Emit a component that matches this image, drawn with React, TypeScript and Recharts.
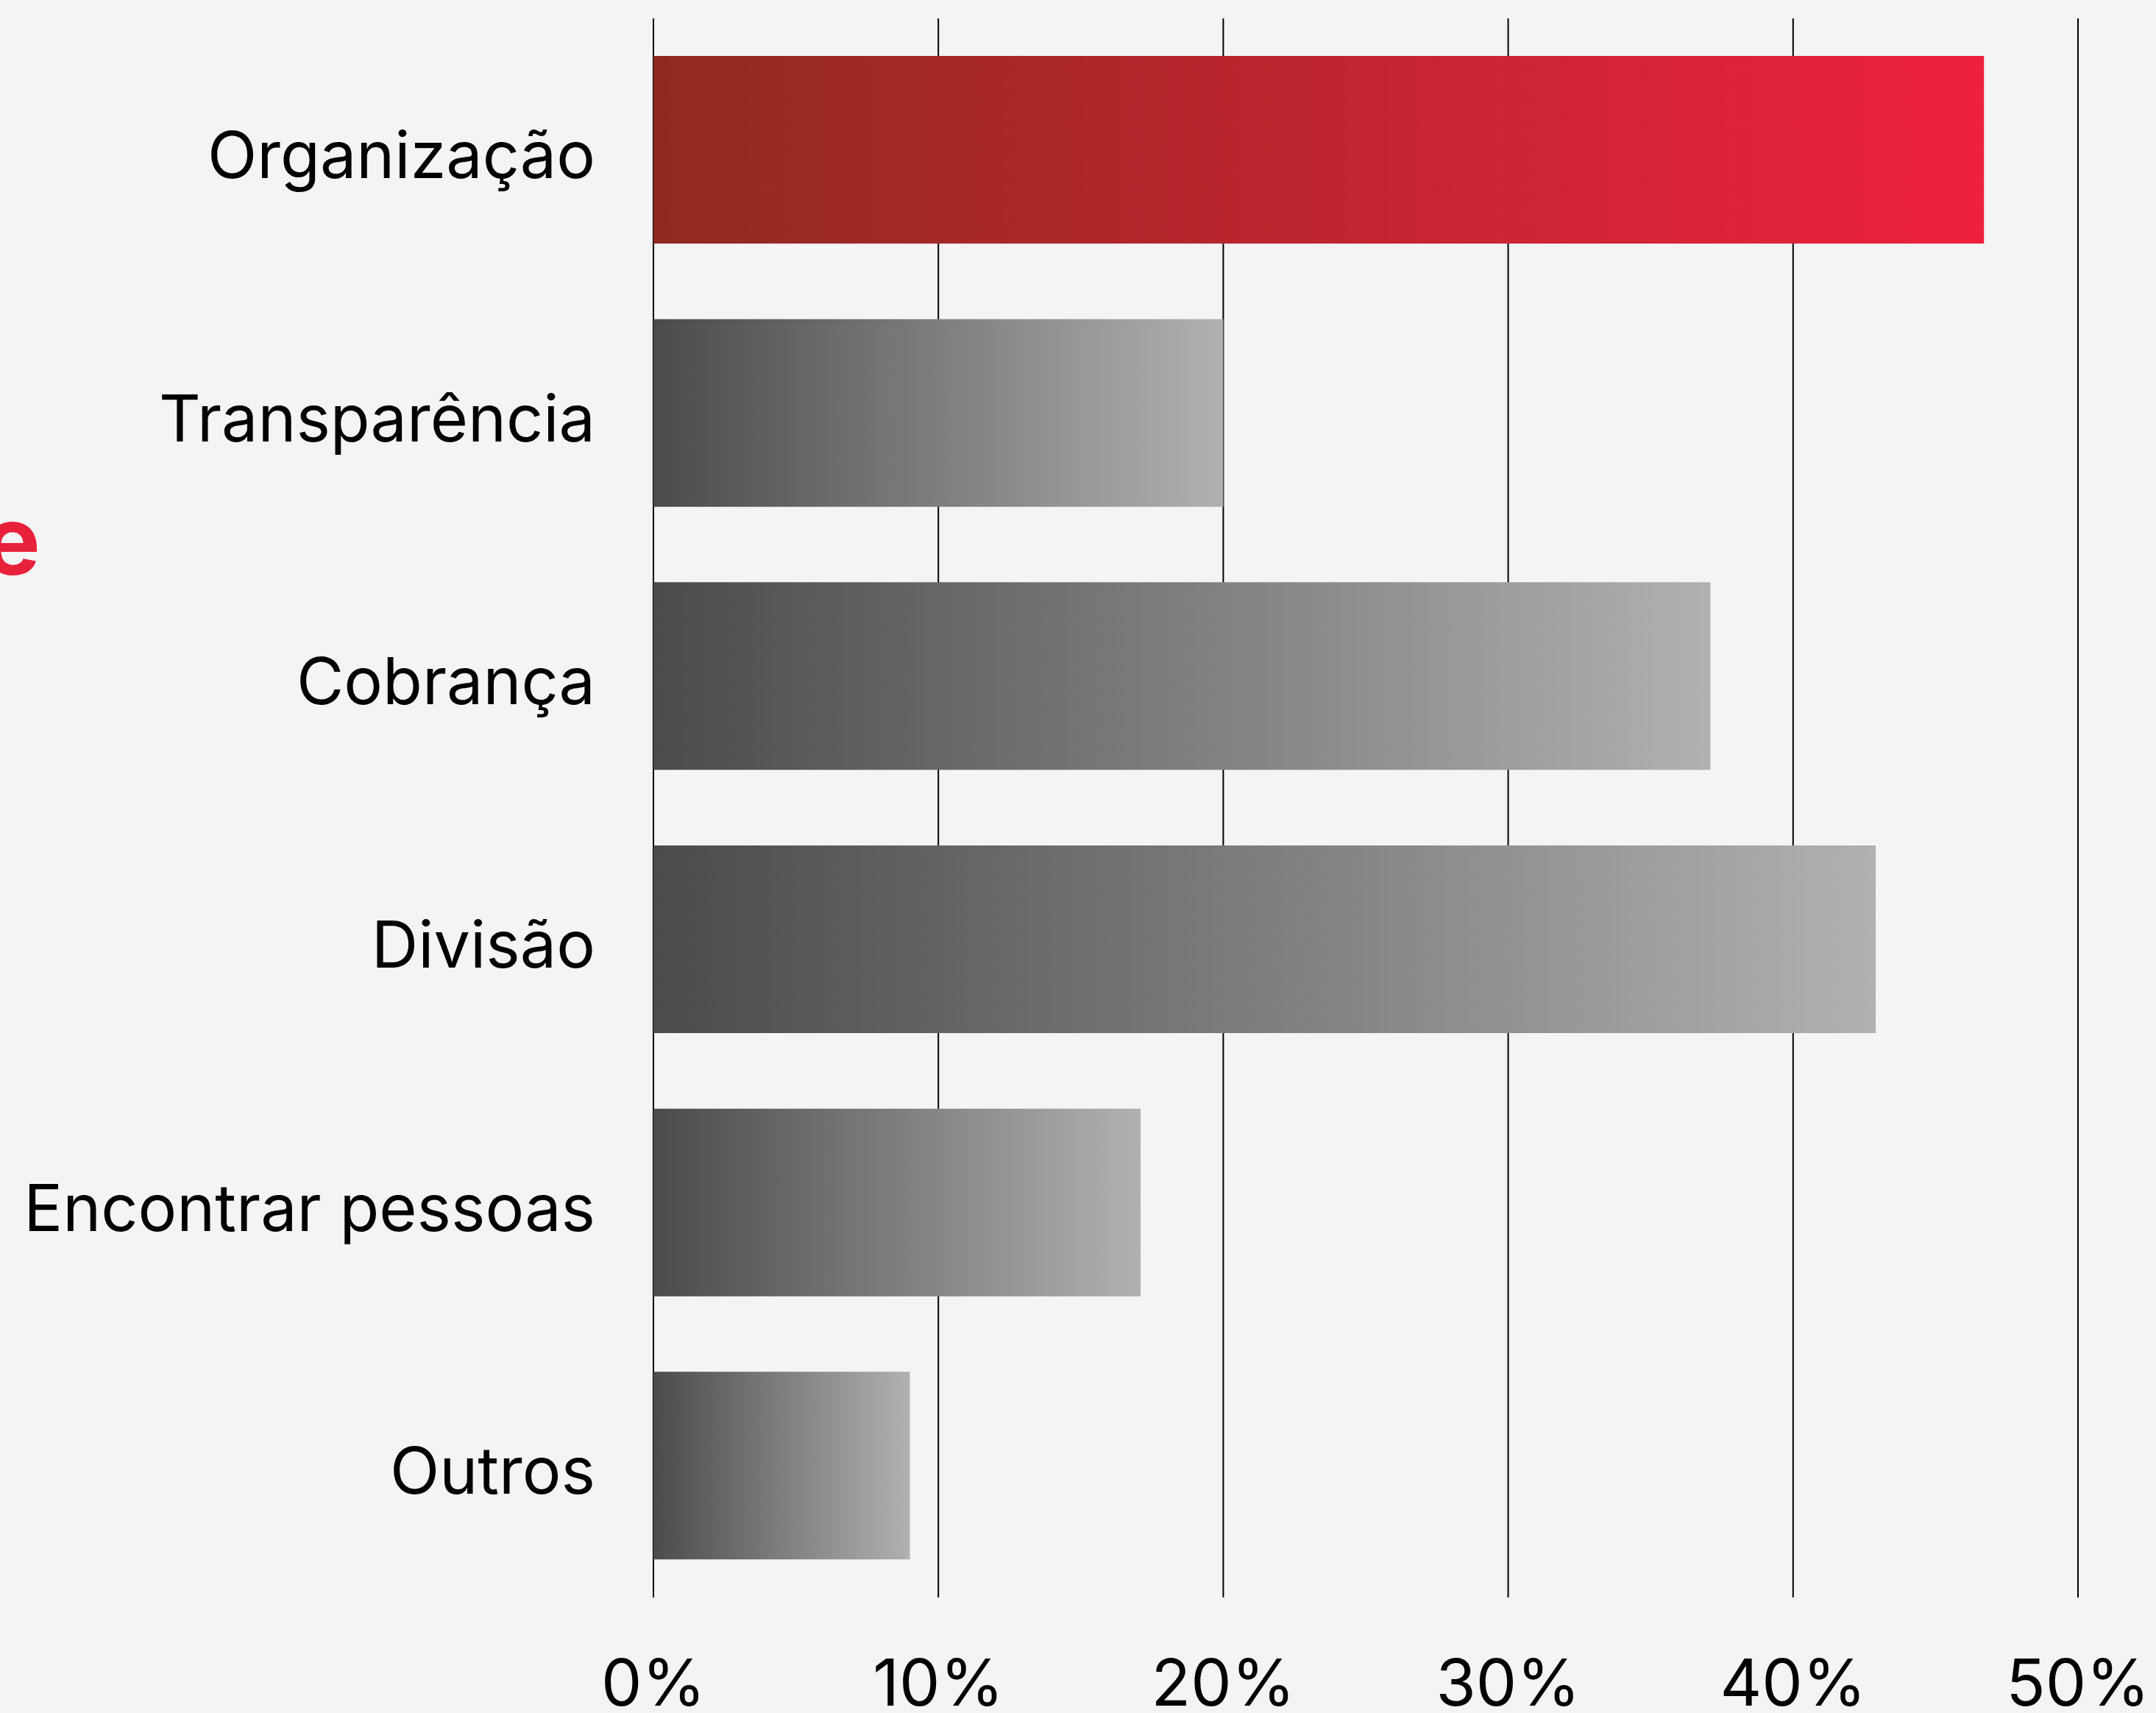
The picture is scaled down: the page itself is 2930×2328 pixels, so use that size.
import { BarChart, Bar, XAxis, YAxis, CartesianGrid, Cell } from 'recharts'

const categories = ['Organização', 'Transparência', 'Cobrança', 'Divisão', 'Encontrar pessoas', 'Outros']
const shares = [46.7, 20, 37.1, 42.9, 17.1, 9]
const highlighted = ['Organização']
const xTicks = [0, 10, 20, 30, 40, 50]

const data = categories.map((name, i) => ({ name, value: shares[i] }))

const FONT = 'Inter, "Noto Sans", sans-serif'

function CategoryTick({ x, y, payload }: any) {
  return (
    <text x={x} y={y} dy={38} textAnchor="end" fill="#000" fontSize={88} fontFamily={FONT}>
      {payload.value}
    </text>
  )
}

export default function App() {
  return (
    <div style={{ position: 'relative', width: 2930, height: 2328, background: '#f4f4f4', overflow: 'hidden' }}>
      <style>{'body{margin:0}'}</style>
      <BarChart
        width={2930}
        height={2328}
        data={data}
        layout="vertical"
        margin={{ top: 25, right: 106, bottom: 0, left: 0 }}
        barSize={255}
      >
        <defs>
          <linearGradient id="redGrad" x1="0" y1="0" x2="1" y2="0">
            <stop offset="0%" stopColor="#8f2a1f" />
            <stop offset="100%" stopColor="#ee213e" />
          </linearGradient>
          <linearGradient id="grayGrad" x1="0" y1="0" x2="1" y2="0">
            <stop offset="0%" stopColor="#4b4b4b" />
            <stop offset="100%" stopColor="#b1b1b1" />
          </linearGradient>
        </defs>
        <CartesianGrid horizontal={false} stroke="#000" strokeWidth={2} />
        <XAxis
          type="number"
          domain={[0, 50]}
          ticks={xTicks}
          tickFormatter={(v) => `${v}%`}
          axisLine={false}
          tickLine={false}
          tickSize={0}
          tickMargin={85}
          height={157}
          interval={0}
          tick={{ fill: '#000', fontSize: 88, fontFamily: FONT }}
        />
        <YAxis
          type="category"
          dataKey="name"
          width={888}
          axisLine={false}
          tickLine={false}
          tickSize={0}
          tickMargin={79}
          interval={0}
          tick={<CategoryTick />}
        />
        <Bar dataKey="value" isAnimationActive={false}>
          {data.map((d) => (
            <Cell key={d.name} fill={highlighted.includes(d.name) ? 'url(#redGrad)' : 'url(#grayGrad)'} />
          ))}
        </Bar>
      </BarChart>
      <svg width={2930} height={2328} style={{ position: 'absolute', left: 0, top: 0, pointerEvents: 'none' }}>
        <text x={55} y={781} textAnchor="end" fill="#e8213b" fontSize={130} fontWeight={700} fontFamily={FONT}>
          e
        </text>
      </svg>
    </div>
  )
}
